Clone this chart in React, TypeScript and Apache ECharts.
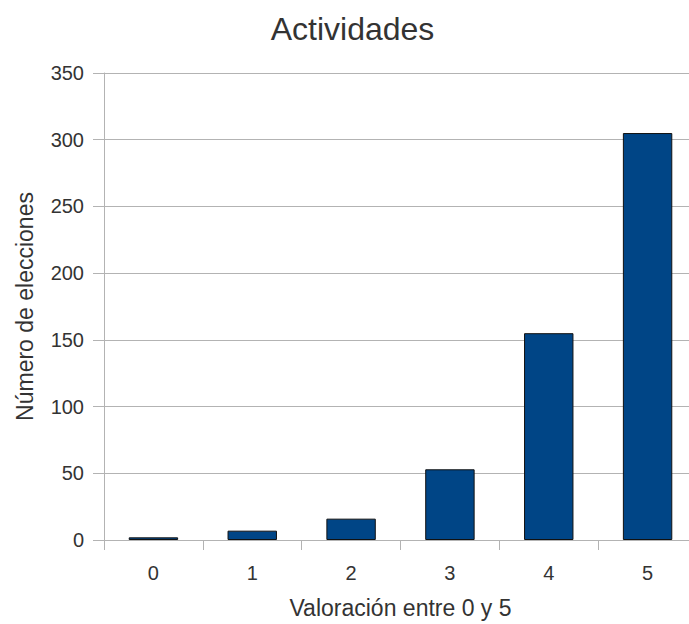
import React, { useEffect, useRef } from "react";
import * as echarts from "echarts";

const categories = ["0", "1", "2", "3", "4", "5"];
const values = [2, 7, 16, 53, 155, 305];
const yTicks = { min: 0, max: 350, interval: 50 };

export default function App() {
  const ref = useRef<HTMLDivElement>(null);
  useEffect(() => {
    const chart = echarts.init(ref.current!, null, { renderer: "svg" });
    const font = "'Liberation Sans', Arial, sans-serif";
    chart.setOption({
      animation: false,
      backgroundColor: "#ffffff",
      textStyle: { fontFamily: font },
      title: {
        text: "Actividades",
        left: "center",
        top: 8,
        textStyle: { fontSize: 32, fontWeight: "normal", color: "#333333", fontFamily: font },
      },
      grid: { left: 104, top: 73, width: 593, height: 470 },
      xAxis: {
        type: "category",
        data: categories,
        name: "Valoración entre 0 y 5",
        nameLocation: "middle",
        nameGap: 56,
        nameTextStyle: { fontSize: 23, color: "#333333", fontFamily: font },
        axisLine: { show: true, lineStyle: { color: "#b3b3b3" } },
        axisTick: { show: true, length: 10, lineStyle: { color: "#b3b3b3" } },
        axisLabel: { fontSize: 20, color: "#333333", margin: 23, fontFamily: font },
      },
      yAxis: {
        type: "value",
        min: yTicks.min,
        max: yTicks.max,
        interval: yTicks.interval,
        name: "Número de elecciones",
        nameLocation: "middle",
        nameGap: 68,
        nameTextStyle: { fontSize: 23, color: "#333333", fontFamily: font },
        axisLine: { show: true, lineStyle: { color: "#b3b3b3" } },
        axisTick: { show: true, length: 11, lineStyle: { color: "#b3b3b3" } },
        axisLabel: { fontSize: 20, color: "#333333", margin: 20, fontFamily: font },
        splitLine: { show: true, lineStyle: { color: "#b3b3b3" } },
      },
      series: [
        {
          type: "bar",
          data: values,
          barWidth: "50%",
          itemStyle: { color: "#004586", borderColor: "#111111", borderWidth: 1 },
        },
      ],
    });
    return () => chart.dispose();
  }, []);
  return (
    <div
      style={{
        position: "fixed",
        left: 0,
        top: 0,
        width: 689,
        height: 624,
        overflow: "hidden",
        background: "#ffffff",
      }}
    >
      <div
        ref={ref}
        style={{ position: "absolute", left: 0, top: 0, width: 705, height: 624 }}
      />
    </div>
  );
}
